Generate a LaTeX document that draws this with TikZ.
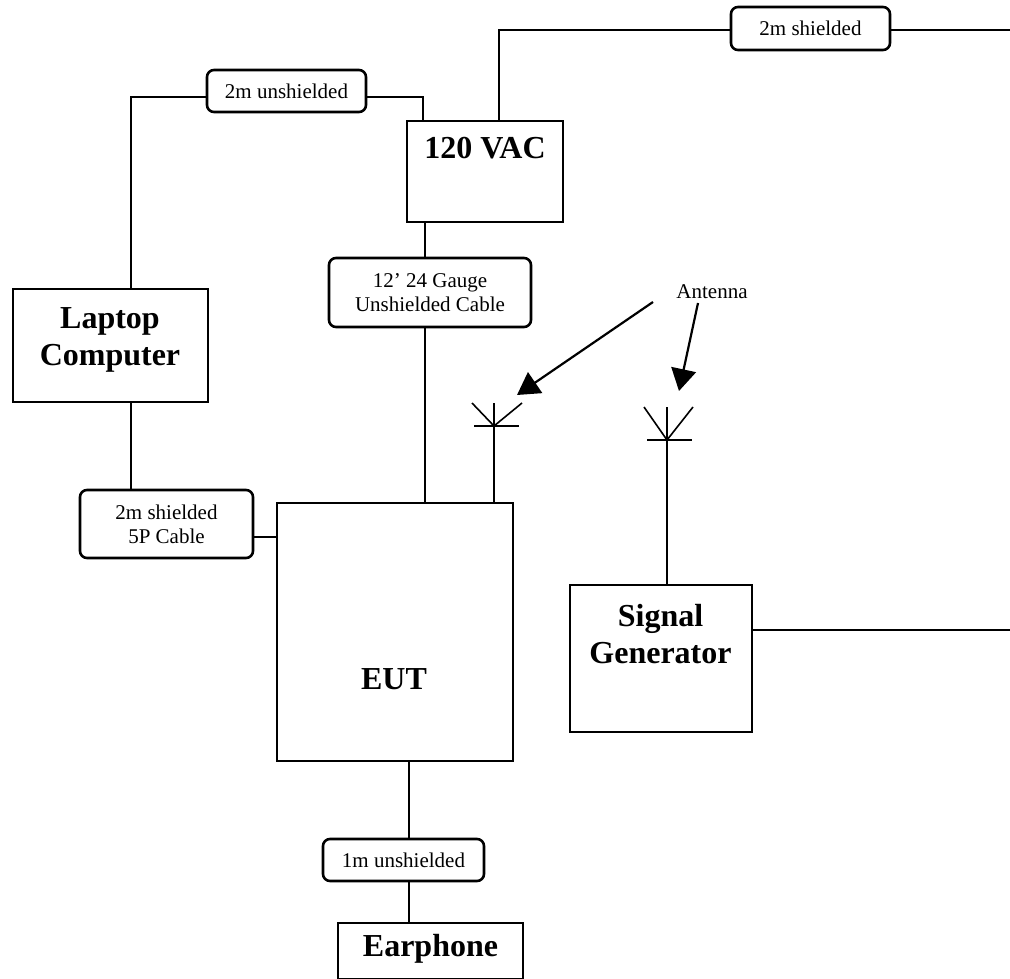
\documentclass[tikz,border=0pt]{standalone}
\usepackage{fontspec}
\setmainfont{Liberation Serif}
\usetikzlibrary{arrows.meta}
\tikzset{
  box/.style={draw, line width=2.3pt, inner sep=0pt},
  cable/.style={draw, line width=2.6pt, rounded corners=7pt, inner sep=0pt, align=center, font=\fontsize{21}{24}\selectfont},
  bigtxt/.style={inner sep=0pt, align=center, font=\bfseries\fontsize{32}{37}\selectfont},
  smalltxt/.style={inner sep=0pt, align=center, font=\fontsize{21}{24}\selectfont},
  wire/.style={line width=2.3pt},
  thinwire/.style={line width=1.7pt},
  pointer/.style={line width=2.2pt, -{Triangle[length=22pt,width=25pt]}},
}
\begin{document}
\begin{tikzpicture}[x=1pt,y=-1pt]
\useasboundingbox (0,0) rectangle (1010,979);

% boxes
\node[box, minimum width=156pt, minimum height=101pt] (vac) at (485,171.5) {};
\node[bigtxt] (vacl) at (485,148) {120 VAC};
\node[box, minimum width=195pt, minimum height=113pt] (lap) at (110.5,345.5) {};
\node[bigtxt] (lapl) at (110,340) {Laptop\\Computer};
\node[box, minimum width=236pt, minimum height=258pt] (eut) at (395,632) {};
\node[bigtxt] (eutl) at (394,679) {EUT};
\node[box, minimum width=182pt, minimum height=147pt] (sg) at (661,658.5) {};
\node[bigtxt] (sgl) at (660.5,634) {Signal\\Generator};
\node[box, minimum width=185pt, minimum height=56pt] (ear) at (430.5,951) {};
\node[bigtxt] (earl) at (430.5,949) {Earphone};

% cable labels
\node[cable, minimum width=159pt, minimum height=42pt] (c2mu) at (286.5,91) {2m unshielded};
\node[cable, minimum width=159pt, minimum height=43pt] (c2ms) at (810.5,28.5) {2m shielded};
\node[cable, minimum width=202pt, minimum height=69pt] (c12) at (430,292.5) {12’ 24 Gauge\\Unshielded Cable};
\node[cable, minimum width=173pt, minimum height=68pt] (c5p) at (166.5,524) {2m shielded\\5P Cable};
\node[cable, minimum width=161pt, minimum height=42pt] (c1m) at (403.5,860) {1m unshielded};

% helper coordinates
\coordinate (lapx) at (131,0);
\coordinate (vacL) at (423,0);
\coordinate (vacR) at (499,0);
\coordinate (vacD) at (425,0);
\coordinate (edge) at (1010,0);
\coordinate (c5py) at (0,537);
\coordinate (ex) at (409,0);
\coordinate (sgy) at (0,630);
\coordinate (topy) at (0,30);

% connectors
\draw[wire] ([yshift=-6pt]c2mu.west) -| (lapx |- lap.north);
\draw[wire] ([yshift=-6pt]c2mu.east) -| (vacL |- vac.north);
\draw[wire] (vacR |- vac.north) |- (c2ms.west |- topy);
\draw[thinwire] (c2ms.east |- topy) -- (edge |- topy);
\draw[wire] (vacD |- vac.south) -- (vacD |- c12.north);
\draw[wire] (vacD |- c12.south) -- (vacD |- eut.north);
\draw[wire] (lapx |- lap.south) -- (lapx |- c5p.north);
\draw[wire] (c5p.east |- c5py) -- (eut.west |- c5py);
\draw[wire] (ex |- eut.south) -- (ex |- c1m.north);
\draw[wire] (ex |- c1m.south) -- (ex |- ear.north);
\draw[thinwire] (sg.east |- sgy) -- (edge |- sgy);

% antenna 1 (on EUT)
\coordinate (a1x) at (494,0);
\coordinate (a1top) at (494,403);
\coordinate (a1j) at (494,426);
\draw[wire] (a1x |- eut.north) -- (a1top);
\draw[line width=1.6pt] (a1j) -- (472,403);
\draw[line width=1.6pt] (a1j) -- (522,403);
\draw[line width=1.6pt] (474,426) -- (519,426);

% antenna 2 (on signal generator)
\coordinate (a2x) at (667,0);
\coordinate (a2top) at (667,407);
\coordinate (a2j) at (667,440);
\draw[wire] (a2x |- sg.north) -- (a2top);
\draw[line width=1.6pt] (a2j) -- (644,407);
\draw[line width=1.6pt] (a2j) -- (693,407);
\draw[line width=1.6pt] (647,440) -- (692,440);

% antenna label and arrows
\node[smalltxt] (antl) at (712,292) {Antenna};
\coordinate (p1s) at (653,302);
\coordinate (p1e) at (517,395);
\coordinate (p2s) at (698,303);
\coordinate (p2e) at (679,391);
\draw[pointer] (p1s) -- (p1e);
\draw[pointer] (p2s) -- (p2e);
\end{tikzpicture}
\end{document}
